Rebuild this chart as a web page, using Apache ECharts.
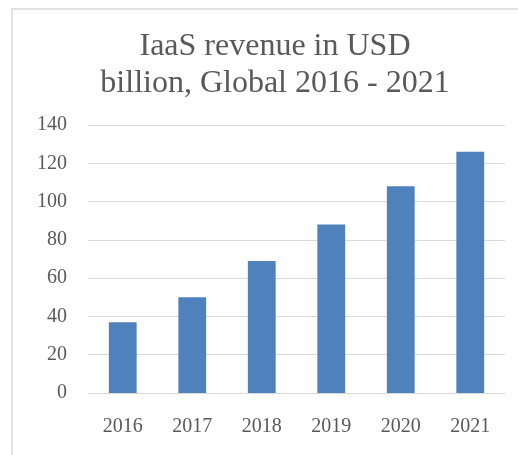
<!DOCTYPE html>
<html><head><meta charset="utf-8">
<script src="https://cdn.jsdelivr.net/npm/echarts@6/dist/echarts.min.js"></script>
<style>html,body{margin:0;padding:0;background:#fff}#c{width:518px;height:455px}</style>
</head><body><div id="c"></div>
<script>
const categories = ['2016','2017','2018','2019','2020','2021'];
const revenue = [37, 50, 69, 88, 108, 126];
const titleText = 'IaaS revenue in USD\nbillion, Global 2016 - 2021';

const chart = echarts.init(document.getElementById('c'), null, {renderer:'canvas'});
const font = '"Liberation Serif", "DejaVu Serif", serif';
chart.setOption({
  animation: false,
  backgroundColor: '#fff',
  graphic: [{
    type: 'rect', shape: {x: 12, y: 9, width: 520, height: 460},
    style: {fill: 'none', stroke: '#d9d9d9', lineWidth: 1.5}, silent: true
  }],
  title: {
    text: titleText, left: 270, top: 23, textAlign: 'center',
    textStyle: {fontFamily: font, fontSize: 32, fontWeight: 'normal', color: '#595959', lineHeight: 37}
  },
  grid: {left: 88, right: 13, top: 125, bottom: 62, containLabel: false},
  xAxis: {
    type: 'category', data: categories,
    axisLine: {show: true, lineStyle: {color: '#d9d9d9'}},
    axisTick: {show: false},
    axisLabel: {fontFamily: font, fontSize: 20, color: '#595959', margin: 24}
  },
  yAxis: {
    type: 'value', min: 0, max: 140, interval: 20,
    axisLine: {show: false}, axisTick: {show: false},
    splitLine: {lineStyle: {color: '#d9d9d9', width: 1}},
    axisLabel: {fontFamily: font, fontSize: 20, color: '#595959', margin: 21}
  },
  series: [{
    type: 'bar', data: revenue, barWidth: '40%',
    itemStyle: {color: '#4f81bd'}
  }]
});
</script></body></html>
